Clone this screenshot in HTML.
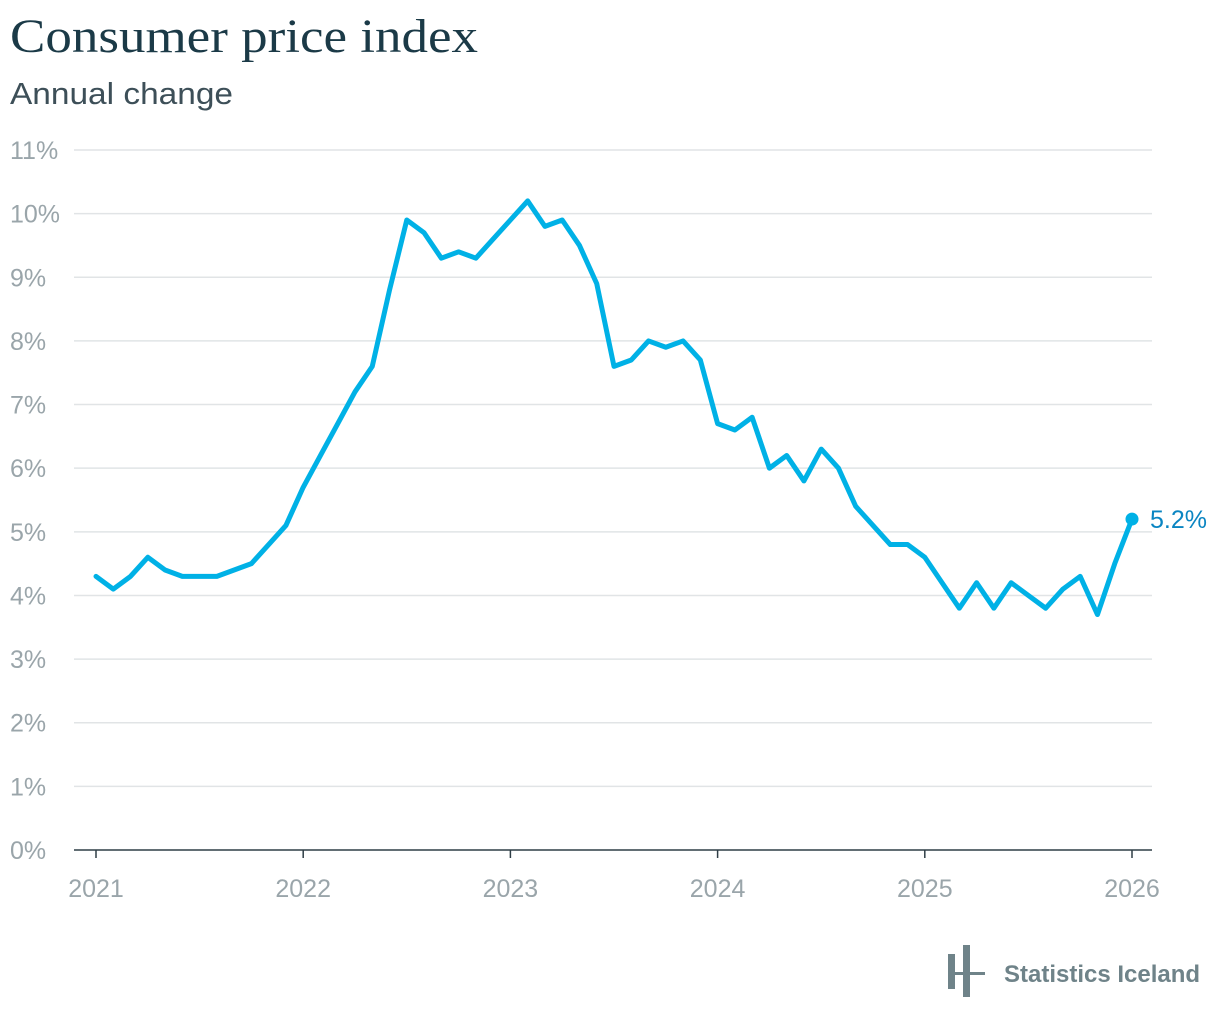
<!DOCTYPE html>
<html><head><meta charset="utf-8"><style>
body{margin:0;background:#fff;width:1220px;height:1022px;overflow:hidden;font-family:"Liberation Sans",sans-serif}
</style></head><body>
<svg id="chart" width="1220" height="1022" xmlns="http://www.w3.org/2000/svg">
<text x="10" y="52" font-family="Liberation Serif,serif" font-size="48" fill="#1b3a47" textLength="468" lengthAdjust="spacingAndGlyphs">Consumer price index</text>
<text x="10" y="104" font-family="Liberation Sans,sans-serif" font-size="31" fill="#3d4f58" textLength="223" lengthAdjust="spacingAndGlyphs">Annual change</text>
<g id="grid"></g><g id="xaxis"></g><g id="series"></g>
<g>
<rect x="948" y="954" width="7" height="35" fill="#6f8389"/>
<rect x="963" y="945" width="7" height="52" fill="#6f8389"/>
<rect x="948" y="972" width="37" height="3" fill="#6f8389"/>
<text x="1004" y="982" font-size="24" font-weight="bold" fill="#6f8389">Statistics Iceland</text>
</g>
</svg>
<script>
const values=[4.3,4.1,4.3,4.6,4.4,4.3,4.3,4.3,4.4,4.5,4.8,5.1,
5.7,6.2,6.7,7.2,7.6,8.8,9.9,9.7,9.3,9.4,9.3,9.6,
9.9,10.2,9.8,9.9,9.5,8.9,7.6,7.7,8.0,7.9,8.0,7.7,
6.7,6.6,6.8,6.0,6.2,5.8,6.3,6.0,5.4,5.1,4.8,4.8,
4.6,4.2,3.8,4.2,3.8,4.2,4.0,3.8,4.1,4.3,3.7,4.5,5.2];
const yTicks=[0,1,2,3,4,5,6,7,8,9,10,11];
const xYears=[2021,2022,2023,2024,2025,2026];
const NS="http://www.w3.org/2000/svg";
const y=v=>850-v*(700/11);
const x=m=>96+m*(1036/60);
function mk(t,a,p){const e=document.createElementNS(NS,t);for(const k in a)e.setAttribute(k,a[k]);p.appendChild(e);return e;}
const grid=document.getElementById('grid');
yTicks.forEach(v=>{
 if(v>0){const l=mk('line',{x1:74,x2:1152,y1:y(v),y2:y(v),stroke:'#e1e4e6','stroke-width':1.5},grid);
 
 }
 const t=mk('text',{x:10,y:y(v)+9,'font-size':25,fill:'#9aa5aa'},grid);t.textContent=v+'%';
 
 
});
const xa=document.getElementById('xaxis');
const ax=mk('line',{x1:74,x2:1152,y1:850,y2:850,stroke:'#2f3e46','stroke-width':1.5},xa);


xYears.forEach((yr,i)=>{
 const px=x(i*12);
 mk('line',{x1:px,x2:px,y1:850,y2:858,stroke:'#2f3e46','stroke-width':1.5},xa);
 const t=mk('text',{x:px,y:897,'font-size':25,fill:'#9aa5aa','text-anchor':'middle'},xa);t.textContent=yr;
 
 
});
const s=document.getElementById('series');
const p=mk('polyline',{points:values.map((v,i)=>x(i)+','+y(v)).join(' '),fill:'none',stroke:'#00b1e6','stroke-width':5,'stroke-linejoin':'round','stroke-linecap':'round'},s);


const li=values.length-1;
const c=mk('circle',{cx:x(li),cy:y(values[li]),r:6.5,fill:'#00b1e6'},s);


const lt=mk('text',{x:x(li)+18,y:y(values[li])+9,'font-size':25,fill:'#0a85c2'},s);lt.textContent=values[li].toFixed(1)+'%';


</script>
</body></html>
